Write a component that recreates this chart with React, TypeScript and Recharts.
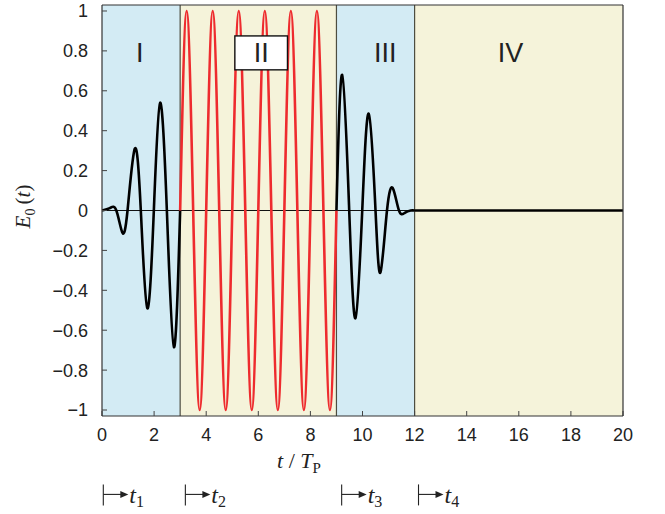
import React from 'react';
import {
  LineChart, Line, XAxis, YAxis, ReferenceArea, ReferenceLine, ReferenceDot,
} from 'recharts';

// ---- data ----
const xTicks = [0, 2, 4, 6, 8, 10, 12, 14, 16, 18, 20];
const yTicks = [-1, -0.8, -0.6, -0.4, -0.2, 0, 0.2, 0.4, 0.6, 0.8, 1];

// region I: rising pulse (black)
const riseT = [0, 0.3, 0.55, 0.78, 0.98, 1.26, 1.49, 1.74, 1.99, 2.23, 2.49, 2.76, 3];
const riseE = [0, 0.012, 0, -0.11, 0, 0.31, 0, -0.49, 0, 0.54, 0, -0.685, 0];

// region II: full-amplitude carrier (red)
const carrierT = [3, 3.25, 3.5, 3.75, 4, 4.25, 4.5, 4.75, 5, 5.25, 5.5, 5.75, 6, 6.25, 6.5, 6.75, 7, 7.25, 7.5, 7.75, 8, 8.25, 8.5, 8.75, 9];
const carrierE = [0, 1, 0, -1, 0, 1, 0, -1, 0, 1, 0, -1, 0, 1, 0, -1, 0, 1, 0, -1, 0, 1, 0, -1, 0];

// region III: decaying pulse (black)
const fallT = [9, 9.22, 9.49, 9.73, 9.99, 10.24, 10.5, 10.69, 10.94, 11.17, 11.4, 11.62, 11.85, 12];
const fallE = [0, 0.68, 0, -0.54, 0, 0.485, 0, -0.31, 0, 0.11, 0, -0.012, 0, 0];

// region IV: zero field (black)
const tailT = [12, 20];
const tailE = [0, 0];

// regions
const regionStart = [0, 3, 9, 12];
const regionEnd = [3, 9, 12, 20];
const regionFill = ['#d3ebf4', '#f5f3da', '#d3ebf4', '#f5f3da'];
const regionNames = ['I', 'II', 'III', 'IV'];
const regionLabelT = [1.45, 6.1, 10.87, 15.68];
const boundaries = [3, 9, 12];

// time markers below the axis
const markerT = [0.05, 3.2, 9.2, 12.15];
const markerNames = ['1', '2', '3', '4'];

const toRows = (ts: number[], es: number[]) => ts.map((t, i) => ({ t, e: es[i] }));
const riseData = toRows(riseT, riseE);
const carrierData = toRows(carrierT, carrierE);
const fallData = toRows(fallT, fallE);
const tailData = toRows(tailT, tailE);

const SANS = '"Liberation Sans", Arial, Helvetica, sans-serif';
const SERIF = '"Liberation Serif", "Times New Roman", serif';
const INK = '#222';

const fmtY = (v: number) => (v < 0 ? '\u2212' + String(Math.abs(v)) : String(v));

const YLabel = (props: any) => {
  const vb = props.viewBox || { x: 0, y: 0, width: 0, height: 0 };
  const cx = 30;
  const cy = vb.y + vb.height / 2 - 4;
  return (
    <text
      x={cx}
      y={cy}
      transform={`rotate(-90 ${cx} ${cy})`}
      textAnchor="middle"
      fontFamily={SERIF}
      fontSize={21}
      fill={INK}
    >
      <tspan fontStyle="italic">E</tspan>
      <tspan fontSize={14} dy={5}>0</tspan>
      <tspan dy={-5}>{'\u2009('}</tspan>
      <tspan fontStyle="italic">t</tspan>
      <tspan>)</tspan>
    </text>
  );
};

const XLabel = () => (
  <text x={299} y={468} textAnchor="middle" fontFamily={SERIF} fontSize={22} fill={INK}>
    <tspan fontStyle="italic">t</tspan>
    <tspan>{' / '}</tspan>
    <tspan fontStyle="italic">T</tspan>
    <tspan fontSize={15} dy={5}>P</tspan>
  </text>
);

const makeMarker = (name: string) => (props: any) => {
  const bx = props.cx;
  const by = props.cy;
  return (
    <g>
      <line x1={bx} y1={by - 10} x2={bx} y2={by + 11} stroke={INK} strokeWidth={1.1} />
      <line x1={bx} y1={by} x2={bx + 19} y2={by} stroke={INK} strokeWidth={1.1} />
      <path d={`M ${bx + 25} ${by} L ${bx + 17} ${by - 3.5} L ${bx + 17} ${by + 3.5} Z`} fill={INK} />
      <text x={bx + 26} y={by + 9} fontFamily={SERIF} fontSize={24} fill={INK}>
        <tspan fontStyle="italic">t</tspan>
        <tspan fontSize={16} dy={4}>{name}</tspan>
      </text>
    </g>
  );
};

const RegionLabel = (text: string, fs: number, boxed: boolean) => (props: any) => {
  const vb = props.viewBox || {};
  const x = vb.x || 0;
  const y = vb.y || 0;
  const w = vb.width || 0;
  const h = vb.height || 0;
  return (
    <g>
      {boxed && (
        <rect x={x} y={y} width={w} height={h} fill="#fff" stroke="#111" strokeWidth={1.4} />
      )}
      <text x={x + w / 2} y={y + h / 2 + 9.5} textAnchor="middle" fontFamily={SANS} fontSize={fs} fill={INK}>
        {text}
      </text>
    </g>
  );
};

export default function App() {
  return (
    <div style={{ position: 'absolute', left: 0, top: 0, background: '#fff' }}>
      <LineChart
        width={665}
        height={514}
        margin={{ top: 4, right: 41, bottom: 0, left: 0 }}
      >
        <XAxis
          dataKey="t"
          type="number"
          domain={[0, 20]}
          ticks={xTicks}
          allowDataOverflow
          height={98}
          tickSize={-5}
          tickMargin={17}
          axisLine={{ stroke: '#333', strokeWidth: 1.2 }}
          tickLine={{ stroke: '#444' }}
          tick={{ fontFamily: SANS, fontSize: 18, fill: INK }}
          label={<XLabel />}
        />
        <XAxis
          xAxisId="top"
          orientation="top"
          type="number"
          domain={[0, 20]}
          ticks={xTicks}
          allowDataOverflow
          height={1}
          tickSize={-5}
          axisLine={{ stroke: '#333', strokeWidth: 1.2 }}
          tickLine={{ stroke: '#444' }}
          tick={false}
        />
        <YAxis
          type="number"
          domain={[-1.03, 1.03]}
          ticks={yTicks}
          allowDataOverflow
          width={102}
          tickSize={-5}
          tickMargin={19}
          tickFormatter={fmtY}
          axisLine={{ stroke: '#333', strokeWidth: 1.2 }}
          tickLine={{ stroke: '#444' }}
          tick={{ fontFamily: SANS, fontSize: 18, fill: INK }}
          label={<YLabel />}
        />
        <YAxis
          yAxisId="right"
          orientation="right"
          type="number"
          domain={[-1.03, 1.03]}
          ticks={yTicks}
          allowDataOverflow
          width={1}
          tickSize={-5}
          axisLine={{ stroke: '#333', strokeWidth: 1.2 }}
          tickLine={{ stroke: '#444' }}
          tick={false}
        />

        {regionStart.map((s, i) => (
          <ReferenceArea
            key={'reg' + i}
            x1={s}
            x2={regionEnd[i]}
            fill={regionFill[i]}
            fillOpacity={1}
            stroke="none"
          />
        ))}

        {boundaries.map((b) => (
          <ReferenceLine key={'b' + b} x={b} stroke="#4d4d40" strokeWidth={1.2} />
        ))}

        <ReferenceLine y={0} stroke="#111" strokeWidth={1} />

        <Line data={riseData} dataKey="e" type="natural" stroke="#000" strokeWidth={2.6} dot={false} isAnimationActive={false} />
        <Line data={carrierData} dataKey="e" type="natural" stroke="#ee2b2e" strokeWidth={2.6} dot={false} isAnimationActive={false} />
        <Line data={fallData} dataKey="e" type="natural" stroke="#000" strokeWidth={2.6} dot={false} isAnimationActive={false} />
        <Line data={tailData} dataKey="e" type="linear" stroke="#000" strokeWidth={2.6} dot={false} isAnimationActive={false} />

        {/* label box for region II (drawn in the label layer, above the lines) */}
        <ReferenceArea
          x1={5.1}
          x2={7.12}
          y1={0.705}
          y2={0.875}
          fill="none"
          stroke="none"
          zIndex={2500}
          label={RegionLabel(regionNames[1], 27, true)}
        />

        {[0, 2, 3].map((i) => (
          <ReferenceArea
            key={'lab' + i}
            x1={regionLabelT[i] - 0.5}
            x2={regionLabelT[i] + 0.5}
            y1={0.705}
            y2={0.875}
            fill="none"
            stroke="none"
            label={RegionLabel(regionNames[i], 27, false)}
          />
        ))}

        {markerT.map((m, i) => (
          <ReferenceDot
            key={'m' + i}
            x={m}
            y={-1.423}
            r={0}
            ifOverflow="visible"
            shape={makeMarker(markerNames[i])}
          />
        ))}
      </LineChart>
    </div>
  );
}
